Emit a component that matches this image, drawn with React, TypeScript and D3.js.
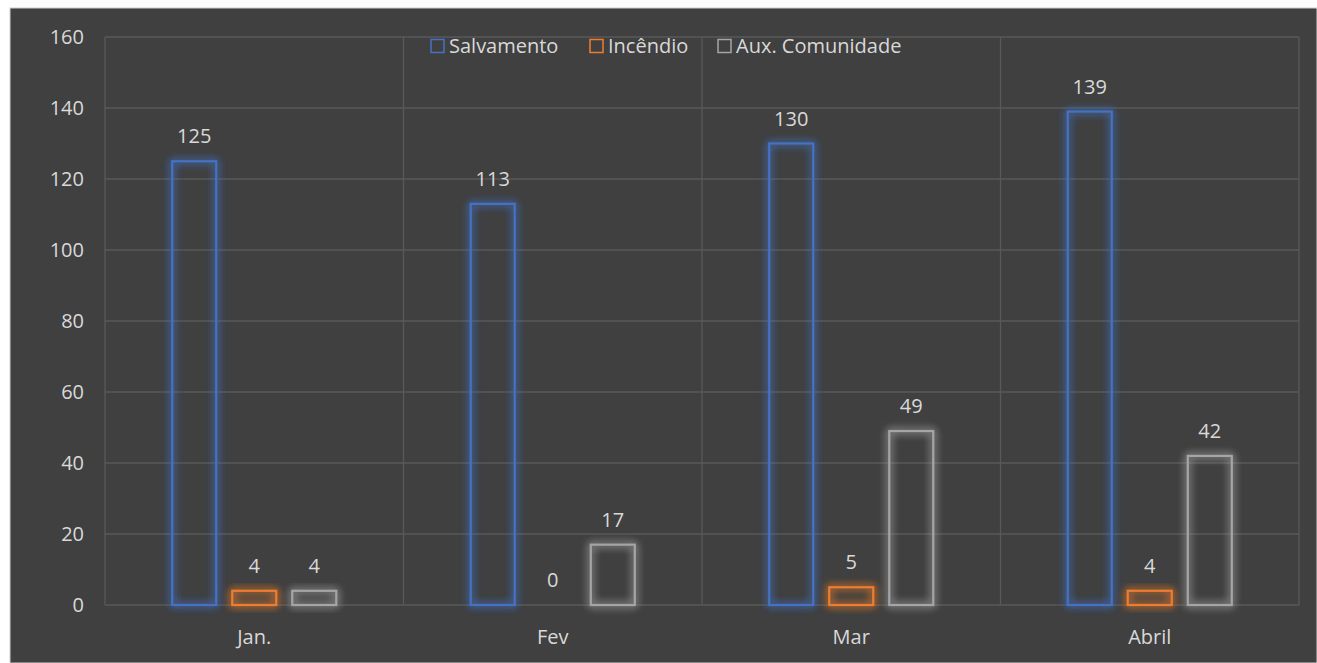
import React from 'react';
import * as d3 from 'd3';

const months = ['Jan.', 'Fev', 'Mar', 'Abril'];
const seriesNames = ['Salvamento', 'Incêndio', 'Aux. Comunidade'];
const salvamento = [125, 113, 130, 139];
const incendio = [4, 0, 5, 4];
const auxComunidade = [4, 17, 49, 42];
const yTicks = [0, 20, 40, 60, 80, 100, 120, 140, 160];

const colors = ['#4472c4', '#ed7d31', '#a5a5a5'];
const font = '"Open Sans", "Noto Sans", sans-serif';

const App = () => {
  const width = 1317;
  const height = 663;
  const left = 105;
  const right = 1299;
  const top = 37;
  const bottom = 605;

  const series = [salvamento, incendio, auxComunidade];

  const x = d3.scaleBand<string>().domain(months).range([left, right]).padding(0);
  const inner = d3
    .scaleBand<string>()
    .domain(seriesNames)
    .range([0, x.bandwidth()])
    .paddingInner(0.267)
    .paddingOuter(1.12);
  const y = d3.scaleLinear().domain([0, 160]).range([bottom, top]);

  const legendX = [431, 590, 718];

  return (
    <svg width={width} height={height} style={{ position: 'absolute', left: 0, top: 0 }}>
      <defs>
        {colors.map((c, i) => (
          <filter key={i} id={`glow${i}`} x="-50%" y="-50%" width="200%" height="200%">
            <feGaussianBlur in="SourceGraphic" stdDeviation="4.5" result="blur" />
            <feMerge>
              <feMergeNode in="blur" />
              <feMergeNode in="blur" />
              <feMergeNode in="SourceGraphic" />
            </feMerge>
          </filter>
        ))}
      </defs>
      <rect x={0} y={0} width={width} height={height} fill="#ffffff" />
      <rect x={10} y={8} width={width - 10} height={height - 8} fill="#404040" stroke="#d0d0d0" strokeWidth={1} />

      {/* gridlines */}
      {yTicks.map((t) => (
        <line key={t} x1={left} x2={right} y1={y(t)} y2={y(t)} stroke="#595959" strokeWidth={1.3} />
      ))}
      {months.map((m) => (
        <line key={m} x1={x(m)} x2={x(m)} y1={top} y2={bottom} stroke="#595959" strokeWidth={1.3} />
      ))}
      <line x1={right} x2={right} y1={top} y2={bottom} stroke="#595959" strokeWidth={1.3} />

      {/* y axis labels */}
      {yTicks.map((t) => (
        <text key={t} x={84} y={y(t)} dy="0.35em" textAnchor="end" fill="#d9d9d9" fontSize={20} fontFamily={font}>
          {t}
        </text>
      ))}

      {/* x axis labels */}
      {months.map((m) => (
        <text key={m} x={(x(m) ?? 0) + x.bandwidth() / 2} y={644} textAnchor="middle" fill="#d9d9d9" fontSize={20} fontFamily={font}>
          {m}
        </text>
      ))}

      {/* bars */}
      {series.map((vals, si) =>
        vals.map((v, mi) => {
          const bx = (x(months[mi]) ?? 0) + (inner(seriesNames[si]) ?? 0);
          const bw = inner.bandwidth();
          const by = y(v);
          const bh = bottom - by;
          return (
            <g key={`${si}-${mi}`}>
              {v > 0 && (
                <rect
                  x={bx}
                  y={by}
                  width={bw}
                  height={bh}
                  fill="none"
                  stroke={colors[si]}
                  strokeWidth={2.2}
                  filter={`url(#glow${si})`}
                />
              )}
              <text
                x={bx + bw / 2}
                y={by - 18}
                textAnchor="middle"
                fill="#d9d9d9"
                fontSize={20}
                fontFamily={font}
              >
                {v}
              </text>
            </g>
          );
        })
      )}

      {/* legend */}
      {seriesNames.map((n, i) => (
        <g key={n}>
          <rect x={legendX[i]} y={39.5} width={13} height={13} fill="none" stroke={colors[i]} strokeWidth={1.5} />
          <text x={legendX[i] + 18} y={46} dy="0.35em" fill="#d9d9d9" fontSize={20} fontFamily={font}>
            {n}
          </text>
        </g>
      ))}
    </svg>
  );
};

export default App;
